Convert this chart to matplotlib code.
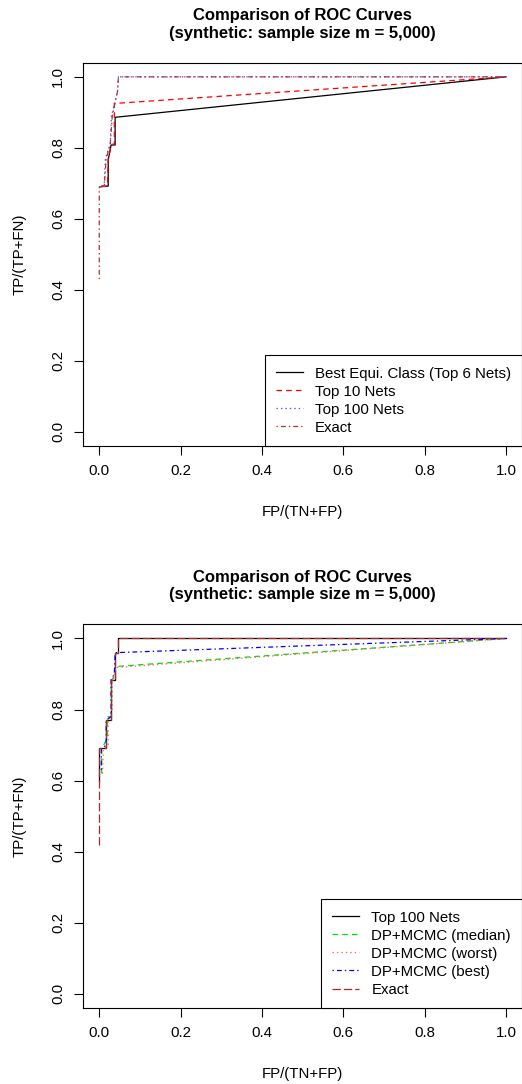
import matplotlib
matplotlib.use('Agg')
import matplotlib.pyplot as plt

plt.rcParams['font.family'] = ['Liberation Sans', 'DejaVu Sans']
plt.rcParams['lines.scale_dashes'] = False

title_text = 'Comparison of ROC Curves\n(synthetic: sample size m = 5,000)'
ticks = [0.0, 0.2, 0.4, 0.6, 0.8, 1.0]
tick_labels = ['0.0', '0.2', '0.4', '0.6', '0.8', '1.0']

# top panel
top_labels = ['Best Equi. Class (Top 6 Nets)', 'Top 10 Nets', 'Top 100 Nets', 'Exact']
fpr_best6 = [0.007, 0.022, 0.022, 0.029, 0.039, 0.039, 1.0]
tpr_best6 = [0.692, 0.692, 0.766, 0.808, 0.808, 0.886, 1.0]
fpr_top10 = [0.005, 0.020, 0.022, 0.030, 0.037, 0.037, 1.0]
tpr_top10 = [0.692, 0.692, 0.770, 0.810, 0.810, 0.925, 1.0]
fpr_top100 = [0.0, 0.012, 0.015, 0.027, 0.030, 0.045, 0.047, 1.0]
tpr_top100 = [0.690, 0.690, 0.770, 0.810, 0.890, 0.960, 1.0, 1.0]
fpr_exact1 = [0.0, 0.0, 0.012, 0.017, 0.027, 0.032, 0.045, 0.047, 1.0]
tpr_exact1 = [0.430, 0.690, 0.690, 0.770, 0.810, 0.890, 0.960, 1.0, 1.0]

# bottom panel
bot_labels = ['Top 100 Nets', 'DP+MCMC (median)', 'DP+MCMC (worst)', 'DP+MCMC (best)', 'Exact']
fpr_t100 = [0.0, 0.0, 0.017, 0.017, 0.029, 0.029, 0.0376, 0.0376, 0.045, 0.045, 1.0]
tpr_t100 = [0.60, 0.693, 0.693, 0.770, 0.770, 0.884, 0.884, 0.959, 0.959, 1.0, 1.0]
fpr_median = [0.006, 0.006, 0.020, 0.020, 0.030, 0.030, 0.039, 0.039, 1.0]
tpr_median = [0.62, 0.69, 0.72, 0.78, 0.78, 0.88, 0.90, 0.921, 1.0]
fpr_worst = [0.008, 0.010, 0.022, 0.022, 0.032, 0.032, 0.040, 0.040, 1.0]
tpr_worst = [0.62, 0.69, 0.70, 0.77, 0.80, 0.88, 0.91, 0.918, 1.0]
fpr_bestmc = [0.005, 0.005, 0.017, 0.017, 0.029, 0.029, 0.037, 0.039, 1.0]
tpr_bestmc = [0.63, 0.69, 0.70, 0.77, 0.78, 0.884, 0.90, 0.960, 1.0]
fpr_exact2 = [0.0, 0.0, 0.017, 0.017, 0.029, 0.029, 0.0376, 0.0376, 0.045, 0.045, 1.0]
tpr_exact2 = [0.42, 0.693, 0.693, 0.770, 0.770, 0.884, 0.884, 0.959, 0.959, 1.0, 1.0]

DASHED = (0, (4, 3))
DOTTED = (0, (1, 2.2))
DOTDASH = (0, (1, 2.2, 3.5, 2.2))
LONGDASH = (0, (6, 2.2))
FS = 10.8


def setup_axes(ax):
    ax.set_xlim(-0.04, 1.04)
    ax.set_ylim(-0.04, 1.04)
    ax.set_xticks(ticks)
    ax.set_xticklabels(tick_labels)
    ax.set_yticks(ticks)
    ax.set_yticklabels(tick_labels, rotation=90, va='center')
    ax.tick_params(direction='out', length=6.5, width=0.8, labelsize=FS, pad=6.5)
    for s in ax.spines.values():
        s.set_linewidth(0.8)
    ax.set_title(title_text, fontsize=12, fontweight='bold', pad=18, linespacing=1.22)
    ax.set_xlabel('FP/(TN+FP)', fontsize=FS)
    ax.set_ylabel('TP/(TP+FN)', fontsize=FS)
    ax.xaxis.set_label_coords(0.5, -0.153)
    ax.yaxis.set_label_coords(-0.128, 0.5)


def add_legend(ax):
    leg = ax.legend(loc='lower right', borderaxespad=0, fancybox=False, framealpha=1,
                    edgecolor='black', fontsize=FS, handlelength=1.8, handletextpad=0.8,
                    labelspacing=0.27, borderpad=0.75)
    leg.get_frame().set_linewidth(0.8)


fig = plt.figure(figsize=(5.22, 10.84), dpi=100)

ax1 = fig.add_axes([0.159, 0.5886, 0.8416, 0.3536])
ax1.plot(fpr_best6, tpr_best6, color='black', lw=0.9, label=top_labels[0])
ax1.plot(fpr_top10, tpr_top10, color='#ff0000', lw=0.9, linestyle=DASHED, label=top_labels[1])
ax1.plot(fpr_top100, tpr_top100, color='#5050ff', lw=0.9, linestyle=DOTTED, label=top_labels[2])
ax1.plot(fpr_exact1, tpr_exact1, color='#b03030', lw=0.9, linestyle=DOTDASH, label=top_labels[3])
setup_axes(ax1)
add_legend(ax1)

ax2 = fig.add_axes([0.159, 0.0701, 0.8416, 0.354])
ax2.plot(fpr_t100, tpr_t100, color='black', lw=0.9, label=bot_labels[0])
ax2.plot(fpr_median, tpr_median, color='#00e000', lw=0.9, linestyle=DASHED, label=bot_labels[1])
ax2.plot(fpr_worst, tpr_worst, color='#ff6060', lw=0.9, linestyle=DOTTED, label=bot_labels[2])
ax2.plot(fpr_bestmc, tpr_bestmc, color='#0000ff', lw=0.9, linestyle=DOTDASH, label=bot_labels[3])
ax2.plot(fpr_exact2, tpr_exact2, color='#a52a2a', lw=0.9, linestyle=LONGDASH, label=bot_labels[4])
setup_axes(ax2)
add_legend(ax2)

plt.savefig('out.png', dpi=100)
plt.close()
